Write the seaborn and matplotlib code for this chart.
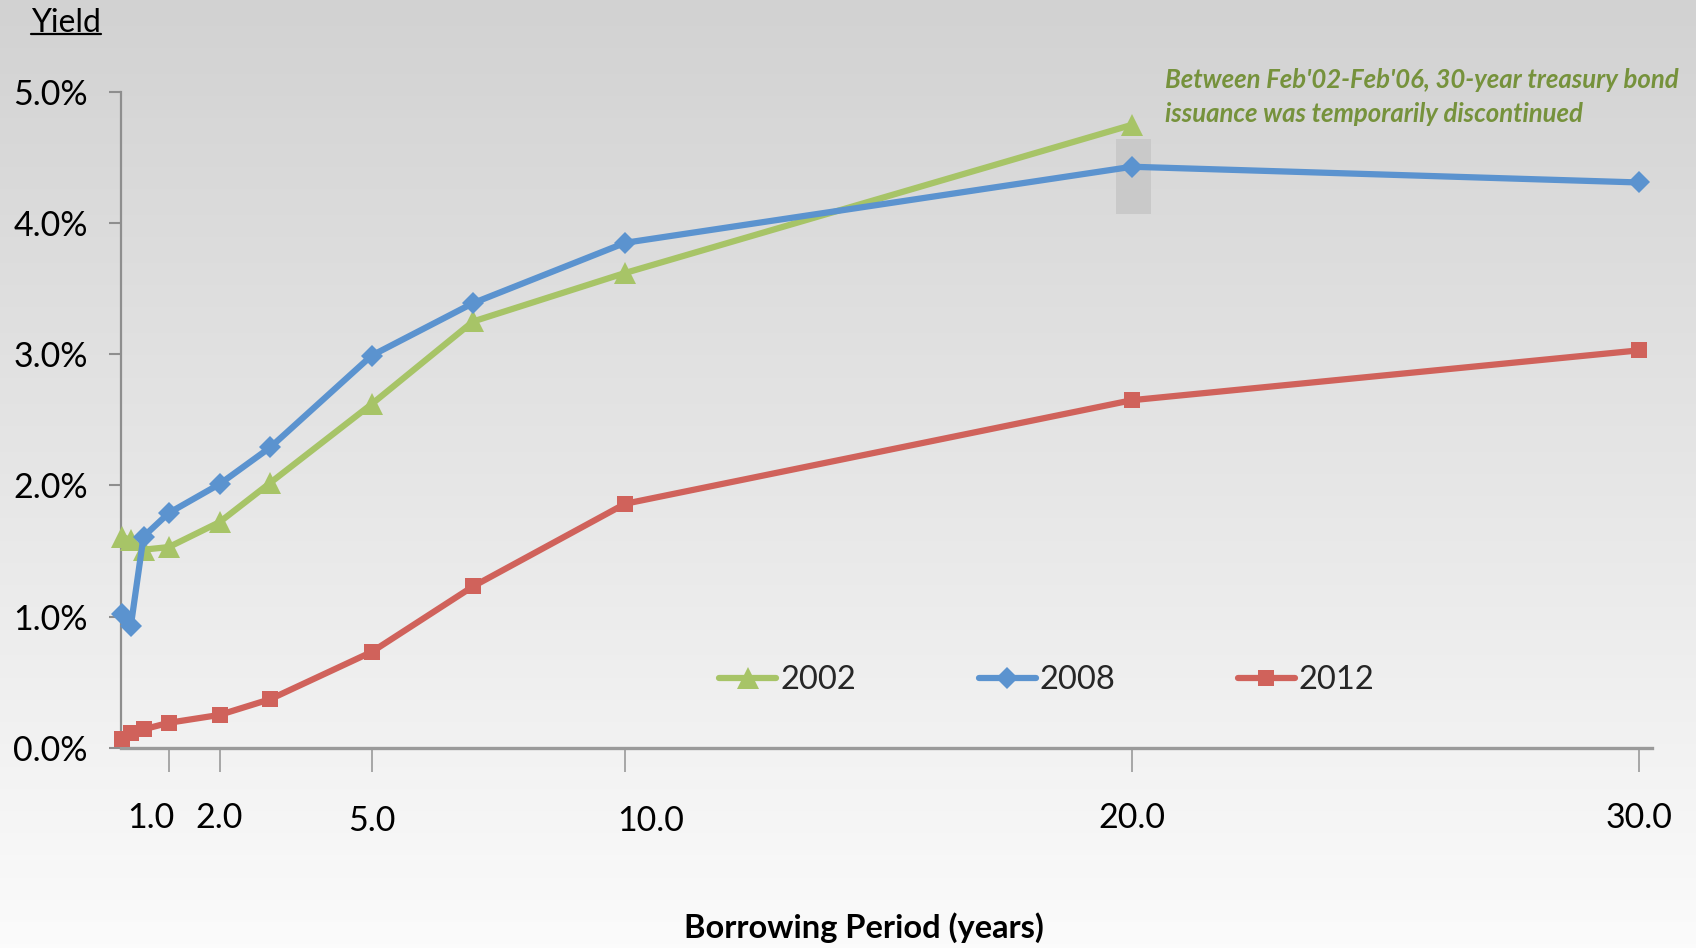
import numpy as np
import pandas as pd
import matplotlib
matplotlib.use("Agg")
import matplotlib.pyplot as plt
import matplotlib.transforms as mtransforms
from matplotlib.colors import LinearSegmentedColormap
from matplotlib.patches import Rectangle
from matplotlib.lines import Line2D
import seaborn as sns

# Treasury yield curves (%), by maturity in years
maturities = [0.083, 0.25, 0.5, 1, 2, 3, 5, 7, 10, 20, 30]
yield_2002 = [1.61, 1.58, 1.51, 1.53, 1.72, 2.02, 2.62, 3.25, 3.62, 4.75, np.nan]
yield_2008 = [1.02, 0.93, 1.61, 1.79, 2.01, 2.29, 2.99, 3.39, 3.85, 4.43, 4.31]
yield_2012 = [0.07, 0.11, 0.14, 0.19, 0.25, 0.37, 0.73, 1.23, 1.86, 2.65, 3.03]
series_names = ["2002", "2008", "2012"]

x_ticks = [1, 2, 5, 10, 20, 30]
x_tick_labels = ["1.0", "2.0", "5.0", "10.0", "20.0", "30.0"]
y_ticks = [0, 1, 2, 3, 4, 5]
y_tick_labels = ["0.0%", "1.0%", "2.0%", "3.0%", "4.0%", "5.0%"]

note_text = ("Between Feb'02-Feb'06, 30-year treasury bond\n"
             "issuance was temporarily discontinued")
# shaded box around the 20-year 2008 point (years, %)
box_x = [19.68, 20.37]
box_y = [4.07, 4.64]

df = pd.DataFrame({
    "maturity": maturities * 3,
    "yield": yield_2002 + yield_2008 + yield_2012,
    "year": [n for n in series_names for _ in maturities],
})

sns.set_theme(style="white")
plt.rcParams["font.family"] = ["Lato", "DejaVu Sans"]

W, H = 1696, 948
fig = plt.figure(figsize=(W / 100, H / 100), dpi=100)

# soft vertical gradient behind everything
bg = fig.add_axes([0, 0, 1, 1], zorder=-10)
grad = np.linspace(0, 1, 256).reshape(-1, 1)
cmap = LinearSegmentedColormap.from_list("bg", ["#d2d2d2", "#e6e6e6", "#fbfbfb"])
bg.imshow(grad, aspect="auto", cmap=cmap, extent=[0, 1, 0, 1], origin="upper")
bg.axis("off")

x0, x1, ytop, ybot = 120.7, 1651.7, 92.0, 747.7
ax = fig.add_axes([x0 / W, 1 - ybot / H, (x1 - x0) / W, (ybot - ytop) / H])
ax.patch.set_alpha(0)

styles = {
    "2002": dict(color="#a7c467", marker="^", markersize=15.5),
    "2008": dict(color="#5b93cf", marker="D", markersize=11.5),
    "2012": dict(color="#d0625b", marker="s", markersize=11.5),
}

ax.add_patch(Rectangle((box_x[0], box_y[0]), box_x[1] - box_x[0], box_y[1] - box_y[0],
                       facecolor="#c9c9c9", edgecolor="none", zorder=1))

for name in series_names:
    st = styles[name]
    sub = df[df["year"] == name].dropna()
    sns.lineplot(data=sub, x="maturity", y="yield", ax=ax, label=name,
                 color=st["color"], marker=st["marker"], markersize=st["markersize"],
                 markeredgewidth=0, linewidth=4.5, zorder=3, clip_on=False)

ax.set_xlim(0.05, 30.25)
ax.set_ylim(0, 5)
ax.set_xticks(x_ticks, x_tick_labels)
ax.set_yticks(y_ticks, y_tick_labels)
ax.grid(False)
for s in ["top", "right"]:
    ax.spines[s].set_visible(False)
ax.spines["left"].set_color("#8e8e8e")
ax.spines["left"].set_linewidth(1.6)
ax.spines["bottom"].set_color("#9a9a9a")
ax.spines["bottom"].set_linewidth(2.4)
ax.tick_params(axis="y", direction="out", length=8.6, width=1.5, color="#8e8e8e",
               pad=15, labelsize=24.5, labelcolor="black", left=True)
ax.tick_params(axis="x", direction="out", length=17, width=1.2, color="#9a9a9a",
               pad=22, labelsize=24.5, labelcolor="black", bottom=True)

# nudge a few x tick labels sideways / down
offsets = {"1.0": (-18, 0), "5.0": (0, -3), "10.0": (26, -3)}
for lbl in ax.get_xticklabels():
    dx, dy = offsets.get(lbl.get_text(), (0, 0))
    lbl.set_transform(lbl.get_transform() +
                      mtransforms.ScaledTranslation(dx / 100, dy / 100, fig.dpi_scale_trans))

ax.set_xlabel("Borrowing Period (years)", fontsize=23.5, fontweight="bold", color="black")
ax.xaxis.set_label_coords((864 - x0) / (x1 - x0), (ybot - 912) / (ybot - ytop))
ax.set_ylabel("")

ax.text(20.64, 5.185, note_text, color="#76923c", fontsize=18.5, fontweight="bold",
        style="italic", va="top", ha="left", linespacing=1.5, clip_on=False)

ax.legend(loc="center left", bbox_to_anchor=(0.391, 0.103), ncol=3, frameon=False,
          fontsize=23.5, handlelength=1.75, handletextpad=0.12, columnspacing=3.75,
          borderpad=0, borderaxespad=0)

ytitle = fig.text(31 / W, 1 - 32 / H, "Yield", fontsize=23, va="baseline", ha="left",
                  color="black")
fig.canvas.draw()
bb = ytitle.get_window_extent()
uy = (H - 34) / H
fig.add_artist(Line2D([bb.x0 / W, bb.x1 / W], [uy, uy], transform=fig.transFigure,
                      color="black", linewidth=1.6))

fig.savefig("out.png", dpi=100)
